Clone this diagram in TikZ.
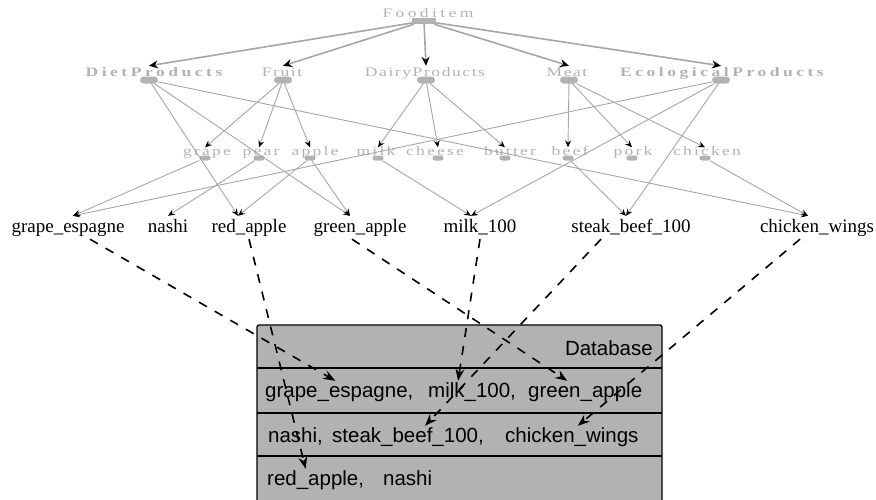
\documentclass[tikz,border=0pt]{standalone}
\usepackage{fontspec}
\setmainfont{Liberation Serif}
\newfontfamily\dbfont{Liberation Sans}
\newfontfamily\rootfont[FakeStretch=1.35,LetterSpace=26]{Liberation Serif}
\newfontfamily\catfont[FakeStretch=1.35,LetterSpace=12]{Liberation Serif}
\newfontfamily\catbffont[FakeStretch=1.35,LetterSpace=27]{Liberation Serif}
\newfontfamily\subfont[FakeStretch=1.35,LetterSpace=17]{Liberation Serif}
\usetikzlibrary{arrows.meta}

\tikzset{
  cat/.style={text=black!30, inner sep=1pt, anchor=base, text height=6.5pt,
    font=\subfont\fontsize{13}{15}\selectfont},
  catone/.style={cat, text height=9pt, font=\catfont\fontsize{13}{15}\selectfont},
  catroot/.style={catone, font=\rootfont\fontsize{13}{15}\selectfont},
  catbold/.style={catone, font=\catbffont\bfseries\fontsize{13}{15}\selectfont},
  knot/.style={fill=black!30, rounded corners=3.5pt, minimum width=18pt,
    minimum height=7pt, inner sep=0pt},
  knotsmall/.style={knot, rounded corners=2.5pt, minimum width=11pt, minimum height=5pt},
  knotroot/.style={fill=black!30, minimum width=24pt, minimum height=6pt, inner sep=0pt},
  inst/.style={anchor=base, inner xsep=0pt, inner ysep=2pt, text height=14pt,
    text depth=5pt, font=\fontsize{19}{22}\selectfont},
  dbtext/.style={anchor=base west, inner xsep=0pt, inner ysep=2pt, text height=14pt,
    font=\dbfont\fontsize{20.5}{24}\selectfont},
  topedge/.style={draw=black!35, line width=1.6pt,
    -{Stealth[black,length=9pt,width=8pt,inset=3pt]}},
  subedge/.style={draw=black!35, line width=0.9pt,
    -{Stealth[black,length=7pt,width=6pt,inset=2.5pt]}},
  dbedge/.style={black, line width=1.6pt, dash pattern=on 9pt off 9pt,
    -{Stealth[length=12pt,width=9pt,inset=4pt]}}
}

\begin{document}
\begin{tikzpicture}[x=1pt, y=-1pt]
    \useasboundingbox (0,0) rectangle (876,499);

    % Raiz de la ontologia.
    \node[catroot] (food) at (428,17) {Fooditem};
    \node[knotroot] (foodk) at (424,21) {};

    % Primer nivel.
    \node[catbold] (diet) at (154,76) {DietProducts};
    \node[knot] (dietk) at (149,80) {};
    \node[catone] (fruit) at (282,76) {Fruit};
    \node[knot] (fruitk) at (283,80) {};
    \node[catone] (dairy) at (425,76) {DairyProducts};
    \node[knot] (dairyk) at (426,80) {};
    \node[catone] (meat) at (567,76) {Meat};
    \node[knot] (meatk) at (569,80) {};
    \node[catbold] (eco) at (722,76) {EcologicalProducts};
    \node[knot] (ecok) at (721,80) {};

    % Segundo nivel.
    \node[cat] (grape) at (207,155) {grape};
    \node[knotsmall] (grapek) at (205,158) {};
    \node[cat] (pear) at (261,155) {pear};
    \node[knotsmall] (peark) at (259,158) {};
    \node[cat] (apple) at (315,155) {apple};
    \node[knotsmall] (applek) at (310,158) {};
    \node[cat] (milk) at (376,155) {milk};
    \node[knotsmall] (milkk) at (378,158) {};
    \node[cat] (cheese) at (435,155) {cheese};
    \node[knotsmall] (cheesek) at (438,158) {};
    \node[cat] (butter) at (510,155) {butter};
    \node[knotsmall] (butterk) at (505,158) {};
    \node[cat] (beef) at (570,155) {beef};
    \node[knotsmall] (beefk) at (568,158) {};
    \node[cat] (pork) at (633,155) {pork};
    \node[knotsmall] (porkk) at (632,158) {};
    \node[cat] (chicken) at (707,155) {chicken};
    \node[knotsmall] (chickenk) at (705,158) {};

    % Instancias.
    \node[inst] (ge) at (68,232) {grape\_espagne};
    \node[inst] (na) at (168,232) {nashi};
    \node[inst] (ra) at (249,232) {red\_apple};
    \node[inst] (ga) at (360,232) {green\_apple};
    \node[inst] (mi) at (480,232) {milk\_100};
    \node[inst] (sb) at (631,232) {steak\_beef\_100};
    \node[inst] (cw) at (817,232) {chicken\_wings};

    % Aristas de la raiz.
    \draw[topedge] (foodk) -- (diet.north -| dietk);
    \draw[topedge] (foodk) -- (fruit.north -| fruitk);
    \draw[topedge] (foodk) -- (dairy.north -| dairyk);
    \draw[topedge] (foodk) -- (meat.north -| meatk);
    \draw[topedge] (foodk) -- (eco.north -| ecok);

    % Aristas hacia el segundo nivel.
    \draw[subedge] (fruitk) -- (grape.north -| grapek);
    \draw[subedge] (fruitk) -- (pear.north -| peark);
    \draw[subedge] (fruitk) -- (apple.north -| applek);
    \draw[subedge] (dairyk) -- (milk.north -| milkk);
    \draw[subedge] (dairyk) -- (cheese.north -| cheesek);
    \draw[subedge] (dairyk) -- (butter.north -| butterk);
    \draw[subedge] (meatk) -- (beef.north -| beefk);
    \draw[subedge] (meatk) -- (pork.north -| porkk);
    \draw[subedge] (meatk) -- (chicken.north -| chickenk);

    % Aristas hacia las instancias.
    \draw[subedge] (dietk) -- ([xshift=-11pt]ra.north);
    \draw[subedge] (dietk) -- ([xshift=-10pt]ga.north);
    \draw[subedge] (dietk) -- ([xshift=-9pt]cw.north);
    \draw[subedge] (ecok) -- ([xshift=5pt]ge.north);
    \draw[subedge] (ecok) -- ([xshift=-9pt]mi.north);
    \draw[subedge] (ecok) -- ([xshift=-5pt]sb.north);
    \draw[subedge] (grapek) -- ([xshift=5pt]ge.north);
    \draw[subedge] (peark) -- (na.north);
    \draw[subedge] (applek) -- ([xshift=-11pt]ra.north);
    \draw[subedge] (applek) -- ([xshift=-10pt]ga.north);
    \draw[subedge] (milkk) -- ([xshift=-9pt]mi.north);
    \draw[subedge] (beefk) -- ([xshift=-5pt]sb.north);
    \draw[subedge] (chickenk) -- ([xshift=-9pt]cw.north);

    % Base de datos con sus tres filas.
    \draw[line width=1.3pt, fill=black!30, rounded corners=2pt] (257,325) rectangle (662,512);
    \draw[line width=1.3pt] (257,368) -- (662,368);
    \draw[line width=1.3pt] (257,413) -- (662,413);
    \draw[line width=1.3pt] (257,456) -- (662,456);
    \node[dbtext, anchor=base east] (dbname) at (653,355) {Database};
    \node[dbtext] (r1a) at (265,397) {grape\_espagne,};
    \node[dbtext] (r1b) at (428,397) {milk\_100,};
    \node[dbtext] (r1c) at (528,397) {green\_apple};
    \node[dbtext] (r2a) at (268,442) {nashi,};
    \node[dbtext] (r2b) at (332,442) {steak\_beef\_100,};
    \node[dbtext] (r2c) at (505,442) {chicken\_wings};
    \node[dbtext] (r3a) at (267,485) {red\_apple,};
    \node[dbtext] (r3b) at (383,485) {nashi};

    % Enlaces de las instancias a la base.
    \draw[dbedge] ([xshift=22pt]ge.south) -- ([xshift=-4pt]r1a.north);
    \draw[dbedge] (ra.south) -- ([xshift=-10pt]r3a.north);
    \draw[dbedge] ([xshift=-8pt]ga.south) -- ([xshift=-18pt]r1c.north);
    \draw[dbedge] (mi.south) -- ([xshift=-14pt]r1b.north);
    \draw[dbedge] ([xshift=-30pt]sb.south) -- ([xshift=17pt]r2b.north);
    \draw[dbedge] ([xshift=-17pt]cw.south) -- ([xshift=6pt]r2c.north);
\end{tikzpicture}
\end{document}
